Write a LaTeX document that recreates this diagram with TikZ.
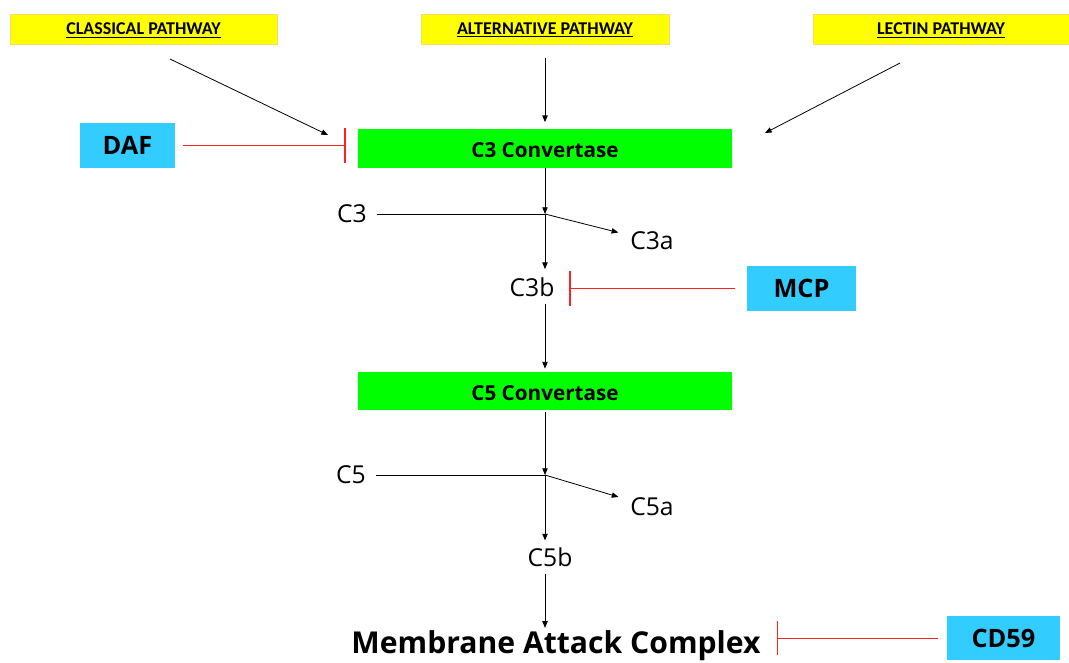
\documentclass[tikz,border=0pt]{standalone}
\usepackage{fontspec}
\setmainfont{Open Sans}
\newfontfamily\pathfont{Carlito}
\usetikzlibrary{arrows,arrows.meta,positioning}
\definecolor{pathyellow}{HTML}{FFFF00}
\definecolor{pathedge}{HTML}{FFD966}
\definecolor{convgreen}{HTML}{00FF00}
\definecolor{regcyan}{HTML}{33CCFF}
\definecolor{inhibred}{HTML}{FF2020}
\tikzset{
cascade/.style={>={Triangle[length=5pt,width=4pt]},x=0.75pt,y=-0.75pt,
    line width=0.6pt},
pathway/.style={draw=pathedge,fill=pathyellow,minimum height=22.5pt,
    inner sep=0pt,text height=8.7pt,text depth=0pt,
    font=\pathfont\bfseries\fontsize{13.5}{16}\selectfont},
convertase/.style={fill=convgreen,minimum width=280.5pt,minimum height=29pt,
    inner sep=0pt,text height=14pt,text depth=0pt,
    font=\bfseries\fontsize{15.5}{18}\selectfont},
regulator/.style={fill=regcyan,minimum height=33.75pt,inner sep=0pt,
    font=\bfseries\fontsize{19}{22}\selectfont},
protein/.style={inner sep=0pt,font=\fontsize{18.5}{22}\selectfont},
inhibit/.style={color=inhibred,line width=0.75pt,
    -{Bar[width=26pt,line width=0.9pt]}},
}

\begin{document}
\begin{tikzpicture}[cascade]
    \useasboundingbox (0,0) rectangle (1069,662);

    \node[pathway,minimum width=200.25pt] (classical) at (143.5,29) {\underline{CLASSICAL PATHWAY}};
    \node[pathway,minimum width=186pt] (alternative) at (545,29) {\underline{ALTERNATIVE PATHWAY}};
    \node[pathway,minimum width=192pt] (lectin) at (941,29) {\underline{LECTIN PATHWAY}};

    \node[convertase] (c3conv) at (545,148.5) {C3 Convertase};
    \node[convertase] (c5conv) at (545,391) {C5 Convertase};

    \node[regulator,minimum width=71.25pt] (daf) at (127.5,145.5) {DAF};
    \node[regulator,minimum width=81.75pt] (mcp) at (801.5,288.5) {MCP};
    \node[regulator,minimum width=84.75pt,minimum height=33pt] (cd59) at (1003.5,638) {CD59};

    \node[protein] (c3) at (352,214) {C3};
    \node[protein] (c3a) at (652,241) {C3a};
    \node[protein] (c3b) at (532,287) {C3b};
    \node[protein] (c5) at (351,475) {C5};
    \node[protein] (c5a) at (652,507) {C5a};
    \node[protein] (c5b) at (550,557) {C5b};
    \node[inner sep=0pt,font=\bfseries\fontsize{22.6}{27}\selectfont] (mac) at (556,646) {Membrane Attack Complex};

    \coordinate (j3) at (545,214);
    \coordinate (j5) at (545,475);
    \coordinate (classical from) at (170,59);
    \coordinate (classical to) at (328,135);
    \coordinate (lectin from) at (900,63);
    \coordinate (lectin to) at (765,133);

    \path[->]
        (classical from) edge (classical to)
        (alternative) edge[shorten <=10pt,shorten >=5pt] (c3conv)
        (lectin from) edge (lectin to)
        (c3conv) edge (j3)
        (j3) edge[shorten >=9pt] (c3a)
            edge[shorten >=6pt] (c3b.north -| j3)
        (c3b.south -| j3) edge[shorten <=5pt,shorten >=2pt] (c5conv)
        (c5conv) edge[shorten <=1pt] (j5)
        (j5) edge[shorten >=9pt] (c5a)
            edge[shorten >=5pt] (c5b.north -| j5)
        (c5b.south -| j5) edge[shorten <=5pt,shorten >=2pt] (mac.north -| j5)
    ;
    \path[-]
        (c3) edge[shorten <=7pt] (j3)
        (c5) edge[shorten <=7pt] (j5)
    ;
    \path
        (daf) edge[inhibit,shorten <=6pt,shorten >=9pt] (daf -| c3conv.west)
        (mcp) edge[inhibit,shorten <=9pt,shorten >=11pt] (mcp -| c3b.east)
        (cd59) edge[inhibit,shorten <=6.75pt,shorten >=12pt] (cd59 -| mac.east)
    ;
\end{tikzpicture}
\end{document}
